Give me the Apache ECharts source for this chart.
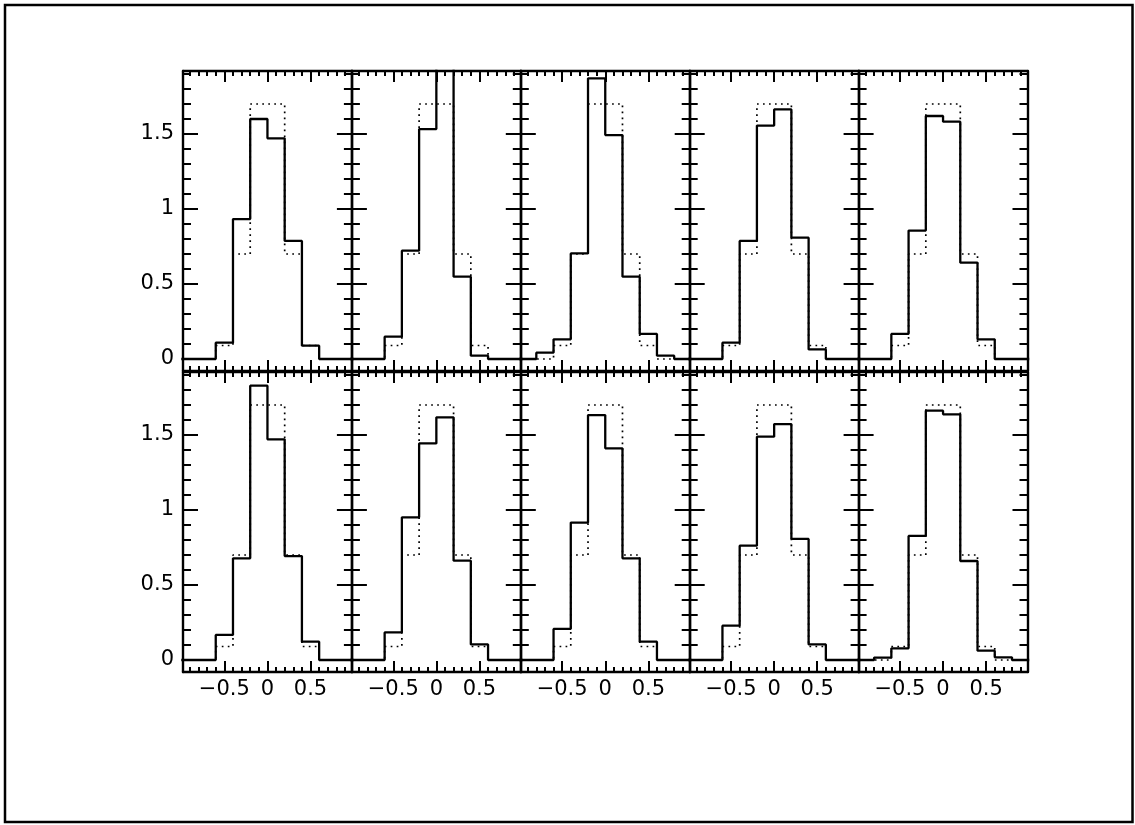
<!DOCTYPE html>
<html>
<head>
<meta charset="utf-8">
<script src="https://cdn.jsdelivr.net/npm/echarts@6/dist/echarts.min.js"></script>
<style>
  html, body { margin: 0; padding: 0; background: #ffffff; }
  #chart { width: 1135px; height: 825px; }
</style>
</head>
<body>
<div id="chart"></div>
<script>
// Histogram bin edges (10 bins of width 0.2)
const binEdges = [-1.0, -0.8, -0.6, -0.4, -0.2, 0.0, 0.2, 0.4, 0.6, 0.8, 1.0];

// Reference distribution (dotted), identical in every panel
const modelHist = [0, 0, 0.09, 0.70, 1.70, 1.70, 0.70, 0.09, 0, 0];

// Measured distributions (solid), one per panel, row by row
const hist1  = [0, 0, 0.109, 0.933, 1.600, 1.471, 0.787, 0.089, 0, 0];
const hist2  = [0, 0, 0.149, 0.722, 1.533, 2.050, 0.549, 0.022, 0, 0];
const hist3  = [0, 0.042, 0.131, 0.704, 1.871, 1.493, 0.549, 0.167, 0.022, 0];
const hist4  = [0, 0, 0.109, 0.787, 1.556, 1.664, 0.809, 0.064, 0, 0];
const hist5  = [0, 0, 0.167, 0.856, 1.620, 1.582, 0.642, 0.131, 0, 0];
const hist6  = [0, 0, 0.167, 0.678, 1.829, 1.471, 0.693, 0.122, 0, 0];
const hist7  = [0, 0, 0.184, 0.951, 1.444, 1.618, 0.662, 0.104, 0, 0];
const hist8  = [0, 0, 0.207, 0.916, 1.633, 1.411, 0.678, 0.122, 0, 0];
const hist9  = [0, 0, 0.229, 0.762, 1.489, 1.573, 0.807, 0.104, 0, 0];
const hist10 = [0, 0.016, 0.078, 0.827, 1.662, 1.638, 0.660, 0.062, 0.018, 0];
const panels = [hist1, hist2, hist3, hist4, hist5, hist6, hist7, hist8, hist9, hist10];

// Axis ranges and ticks
const xRange = [-0.98, 0.98];
const yRange = [-0.08, 1.92];
const xMajorTicks = [-0.5, 0, 0.5];
const xMinorTicks = [-0.9, -0.8, -0.7, -0.6, -0.4, -0.3, -0.2, -0.1, 0.1, 0.2, 0.3, 0.4, 0.6, 0.7, 0.8, 0.9];
const yMajorTicks = [0, 0.5, 1, 1.5];
const yMinorTicks = [0.1, 0.2, 0.3, 0.4, 0.6, 0.7, 0.8, 0.9, 1.1, 1.2, 1.3, 1.4, 1.6, 1.7, 1.8, 1.9];

const FONT = 'DejaVu Sans';
const INK = '#000000';

// Panel layout
const plotLeft = 183, plotRight = 1027.5;
const nCols = 5;
const panelW = (plotRight - plotLeft) / nCols;
const rowTops = [71, 372];
const panelH = 300;

function toStep(values) {
  // one point per bin edge; the last edge repeats the last bin's value
  return binEdges.map((e, i) => [e, values[Math.min(i, values.length - 1)]]);
}

function fmtX(v) {
  return v < 0 ? '\u2212' + Math.abs(v) : String(v);
}

const grids = [], xAxes = [], yAxes = [], series = [];

function tick(len, values) {
  return { show: true, inside: true, length: len, customValues: values, lineStyle: { color: INK, width: 2 } };
}

panels.forEach((vals, p) => {
  const row = Math.floor(p / nCols), col = p % nCols;
  grids.push({
    left: plotLeft + col * panelW,
    top: rowTops[row],
    width: panelW,
    height: panelH,
    containLabel: false
  });

  const base = 4 * p;
  const xCommon = { type: 'value', gridIndex: p, min: xRange[0], max: xRange[1], splitLine: { show: false } };
  const yCommon = { type: 'value', gridIndex: p, min: yRange[0], max: yRange[1], splitLine: { show: false } };
  const boxLine = { show: true, onZero: false, lineStyle: { color: INK, width: 2.4 } };
  const noLine = { show: false, onZero: false };

  // bottom: frame, major ticks and labels
  xAxes.push(Object.assign({}, xCommon, {
    position: 'bottom', axisLine: boxLine, axisTick: tick(11, xMajorTicks),
    axisLabel: {
      show: row === 1, customValues: xMajorTicks, formatter: fmtX, margin: 7,
      color: INK, fontFamily: FONT, fontSize: 21
    }
  }));
  // bottom: minor ticks
  xAxes.push(Object.assign({}, xCommon, {
    position: 'bottom', axisLine: noLine, axisTick: tick(5, xMinorTicks), axisLabel: { show: false }
  }));
  // top: frame and major ticks
  xAxes.push(Object.assign({}, xCommon, {
    position: 'top', axisLine: boxLine, axisTick: tick(11, xMajorTicks), axisLabel: { show: false }
  }));
  // top: minor ticks
  xAxes.push(Object.assign({}, xCommon, {
    position: 'top', axisLine: noLine, axisTick: tick(5, xMinorTicks), axisLabel: { show: false }
  }));

  // left: frame, major ticks and labels
  yAxes.push(Object.assign({}, yCommon, {
    position: 'left', axisLine: boxLine, axisTick: tick(15, yMajorTicks),
    axisLabel: {
      show: col === 0, customValues: yMajorTicks, margin: 9, padding: [5, 0, 0, 0],
      color: INK, fontFamily: FONT, fontSize: 21
    }
  }));
  // left: minor ticks
  yAxes.push(Object.assign({}, yCommon, {
    position: 'left', axisLine: noLine, axisTick: tick(8, yMinorTicks), axisLabel: { show: false }
  }));
  // right: frame and major ticks
  yAxes.push(Object.assign({}, yCommon, {
    position: 'right', axisLine: boxLine, axisTick: tick(15, yMajorTicks), axisLabel: { show: false }
  }));
  // right: minor ticks
  yAxes.push(Object.assign({}, yCommon, {
    position: 'right', axisLine: noLine, axisTick: tick(8, yMinorTicks), axisLabel: { show: false }
  }));

  // reference histogram (dotted)
  series.push({
    type: 'line', xAxisIndex: base, yAxisIndex: base,
    data: toStep(modelHist), step: 'end',
    symbol: 'none', silent: true, z: 2,
    lineStyle: { color: INK, width: 1.7, type: [1.7, 4.3] }
  });
  // measured histogram (solid)
  series.push({
    type: 'line', xAxisIndex: base, yAxisIndex: base,
    data: toStep(vals), step: 'end',
    symbol: 'none', silent: true, z: 3,
    lineStyle: { color: INK, width: 2.3 }
  });
});

const chart = echarts.init(document.getElementById('chart'), null, { renderer: 'canvas' });
chart.setOption({
  backgroundColor: '#ffffff',
  animation: false,
  grid: grids,
  xAxis: xAxes,
  yAxis: yAxes,
  series: series,
  graphic: [{
    type: 'rect', silent: true, z: 100,
    shape: { x: 5, y: 5, width: 1127.5, height: 817 },
    style: { fill: null, stroke: INK, lineWidth: 2.5 }
  }]
});
</script>
</body>
</html>
